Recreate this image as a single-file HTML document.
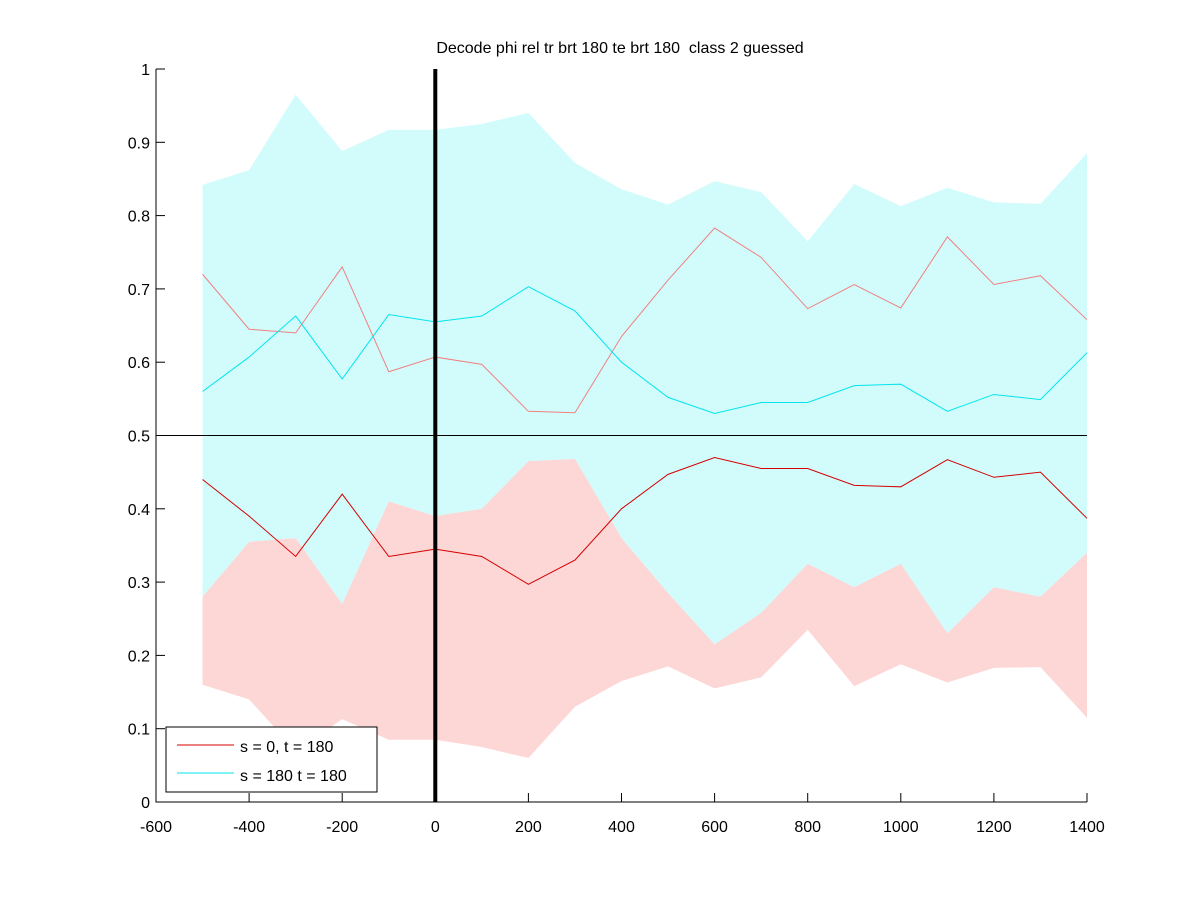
<!DOCTYPE html>
<html><head><meta charset="utf-8"><style>
body{margin:0;background:#fff;}
svg text{font-family:"Liberation Sans",sans-serif;}
</style></head><body>
<svg id="chart" width="1200" height="900" xmlns="http://www.w3.org/2000/svg">
<rect width="1200" height="900" fill="#fff"/>
<text x="620" y="53" font-size="16" text-anchor="middle">Decode phi rel tr brt 180 te brt 180 &#160;class 2 guessed</text>
<g id="plot"></g>
</svg>
<script>
const xs=[-500,-400,-300,-200,-100,0,100,200,300,400,500,600,700,800,900,1000,1100,1200,1300,1400];
const redMean=[0.44,0.39,0.335,0.42,0.335,0.345,0.335,0.297,0.33,0.40,0.447,0.47,0.455,0.455,0.432,0.43,0.467,0.443,0.45,0.387];
const redUpper=[0.28,0.355,0.36,0.27,0.41,0.39,0.40,0.465,0.468,0.36,0.285,0.215,0.258,0.325,0.293,0.325,0.23,0.293,0.28,0.34];
const redLower=[0.16,0.14,0.07,0.113,0.085,0.085,0.075,0.06,0.13,0.165,0.185,0.155,0.17,0.235,0.158,0.188,0.163,0.183,0.184,0.115];
const redAlt=[0.72,0.645,0.64,0.73,0.587,0.607,0.597,0.533,0.531,0.635,0.712,0.783,0.743,0.673,0.706,0.674,0.771,0.706,0.718,0.658];
const cyanMean=[0.56,0.607,0.663,0.577,0.665,0.655,0.663,0.703,0.67,0.60,0.552,0.53,0.545,0.545,0.568,0.57,0.533,0.556,0.549,0.613];
const cyanUpper=[0.842,0.862,0.965,0.888,0.917,0.917,0.925,0.94,0.872,0.836,0.815,0.847,0.832,0.765,0.843,0.813,0.838,0.818,0.816,0.885];
const cyanLower=[0.28,0.355,0.36,0.27,0.41,0.39,0.40,0.465,0.468,0.36,0.285,0.215,0.258,0.325,0.293,0.325,0.23,0.293,0.28,0.34];
const xTicks=[-600,-400,-200,0,200,400,600,800,1000,1200,1400];
const yTicks=[0,0.1,0.2,0.3,0.4,0.5,0.6,0.7,0.8,0.9,1];

const X0=156,X1=1087,Y0=802,Y1=69;
const sx=v=>X0+(v+600)/2000*(X1-X0);
const sy=v=>Y0-v*(Y0-Y1);
const NS="http://www.w3.org/2000/svg";
const g=document.getElementById('plot');
function mk(tag,attrs){const e=document.createElementNS(NS,tag);for(const k in attrs)e.setAttribute(k,attrs[k]);g.appendChild(e);return e;}
function band(up,lo,col){
  let p=xs.map((x,i)=>sx(x)+','+sy(up[i]));
  for(let i=xs.length-1;i>=0;i--)p.push(sx(xs[i])+','+sy(lo[i]));
  return mk('polygon',{points:p.join(' '),fill:col,stroke:'none'});
}
function line(v,col,w){
  return mk('polyline',{points:xs.map((x,i)=>sx(x)+','+sy(v[i])).join(' '),fill:'none',stroke:col,'stroke-width':w});
}
let e;
e=band(cyanUpper,cyanLower,'#d2fcfc');


e=band(redUpper,redLower,'#fdd6d6');


e=line(redAlt,'#f08080',1);


e=line(cyanMean,'#00e5ee',1);


e=line(redMean,'#d40000',1);


e=mk('line',{x1:X0,x2:X1,y1:sy(0.5),y2:sy(0.5),stroke:'#000','stroke-width':1});


e=mk('line',{x1:sx(0),x2:sx(0),y1:sy(0),y2:sy(1),stroke:'#000','stroke-width':4});


e=mk('path',{d:`M${X0},${Y1}V${Y0}H${X1}`,fill:'none',stroke:'#000','stroke-width':1});


xTicks.forEach(t=>{
  e=mk('line',{x1:sx(t),x2:sx(t),y1:Y0,y2:Y0-9,stroke:'#000'});
  
  
  e=mk('text',{x:sx(t),y:Y0+30,'font-size':16,'text-anchor':'middle'});
  e.textContent=t;
  
  
});
yTicks.forEach(t=>{
  e=mk('line',{x1:X0,x2:X0+9,y1:sy(t),y2:sy(t),stroke:'#000'});
  
  
  e=mk('text',{x:X0-6,y:sy(t)+6,'font-size':16,'text-anchor':'end'});
  e.textContent=t;
  
  
});
e=mk('rect',{x:166,y:727,width:211,height:65,fill:'#fff',stroke:'#000'});


e=mk('line',{x1:177,x2:234,y1:745,y2:745,stroke:'#d40000'});


e=mk('text',{x:240,y:752,'font-size':16});
e.textContent='s = 0, t = 180';


e=mk('line',{x1:177,x2:234,y1:773,y2:773,stroke:'#00e5ee'});


e=mk('text',{x:240,y:781,'font-size':16});
e.textContent='s = 180 t = 180';


</script>
</body></html>
